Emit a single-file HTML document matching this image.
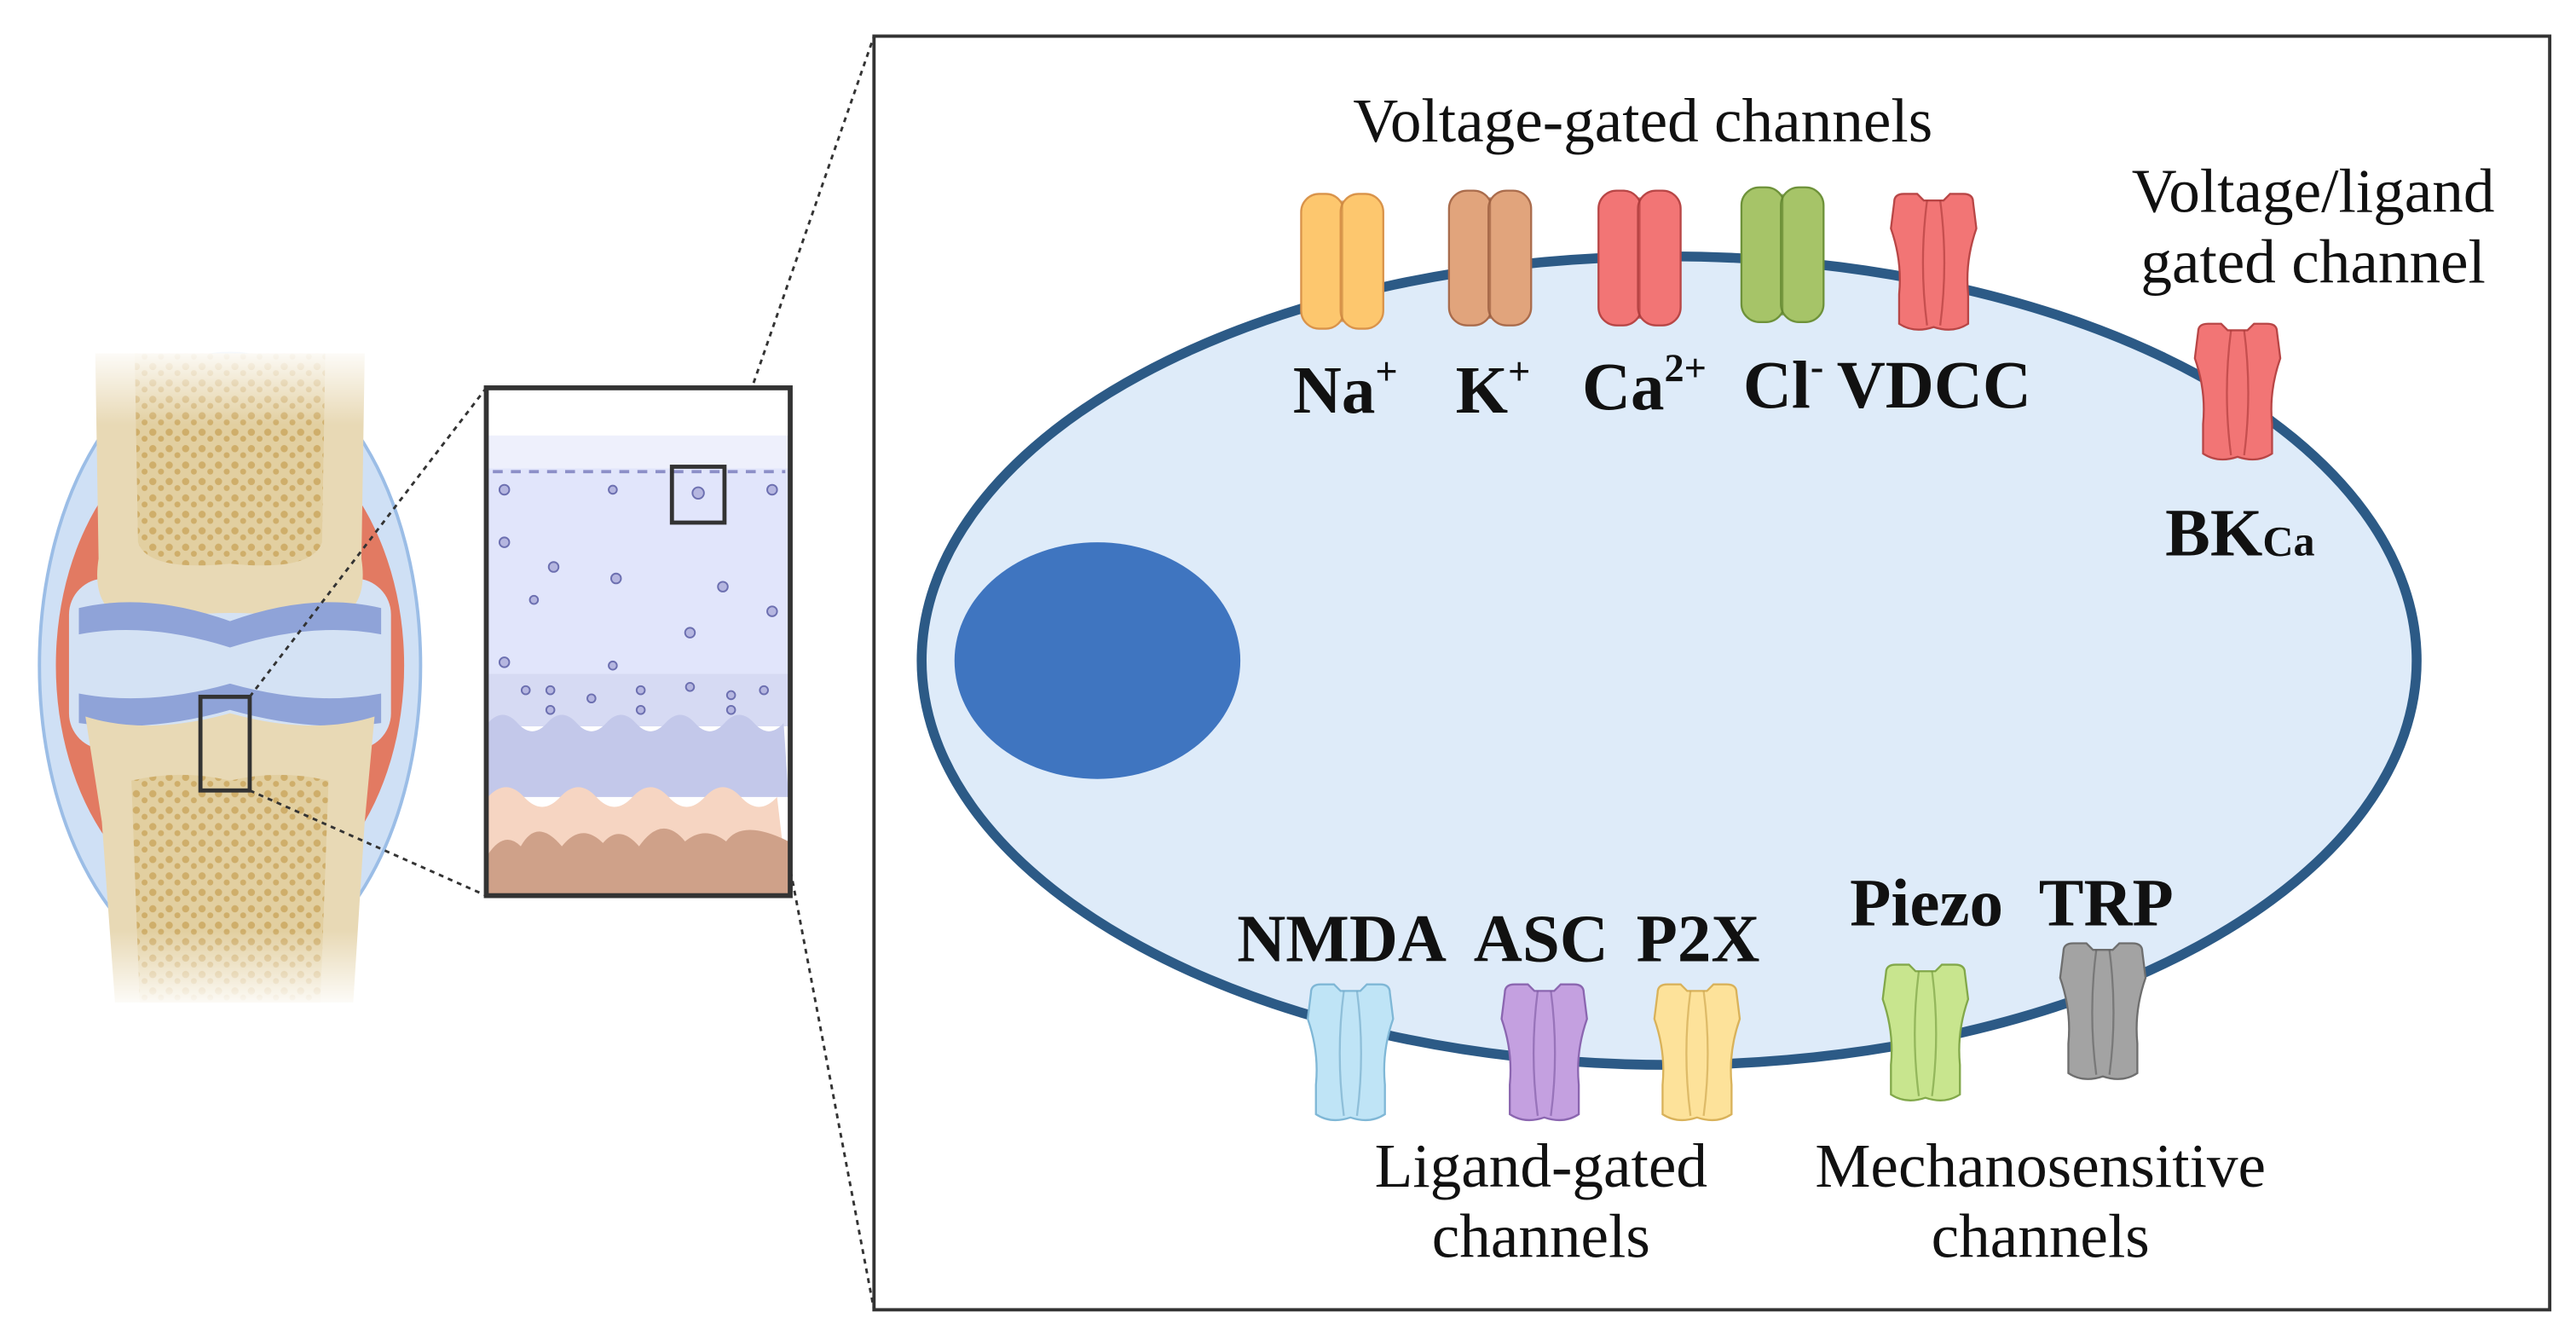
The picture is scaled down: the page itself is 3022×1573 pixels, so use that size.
<!DOCTYPE html>
<html><head><meta charset="utf-8"><style>
html,body{margin:0;padding:0;background:#fff;}
svg{display:block;}
text{font-family:"Liberation Serif",serif;fill:#111;}
.b{font-weight:bold;font-size:41px;}
.n{font-size:38px;}
</style></head><body>
<svg width="3022" height="1573" viewBox="0 0 1568 816" preserveAspectRatio="none" xmlns="http://www.w3.org/2000/svg">
<defs>
<linearGradient id="fade" x1="0" y1="0" x2="0" y2="1">
<stop offset="0" stop-color="#fff" stop-opacity="1"/><stop offset="0.12" stop-color="#fff" stop-opacity="0"/>
<stop offset="0.88" stop-color="#fff" stop-opacity="0"/><stop offset="1" stop-color="#fff" stop-opacity="1"/>
</linearGradient>
<pattern id="sp" width="10" height="10" patternUnits="userSpaceOnUse">
<rect width="10" height="10" fill="#e2cfa0"/><circle cx="3" cy="3" r="2.2" fill="#cfae6a"/><circle cx="8" cy="7" r="1.8" fill="#cfae6a"/>
</pattern>
<g id="st">
<rect x="-25" y="0" width="26" height="82" rx="11"/>
<rect x="-1" y="0" width="26" height="82" rx="11"/>
</g>
<path id="hg" d="M-24 6 Q-24 1 -18 1 L-10 1 L-6 5 L6 5 L10 1 L18 1 Q24 1 24 6 L26 22 Q19 42 21 62 L21 80 Q12 86 0 82 Q-12 86 -21 80 L-21 62 Q-19 42 -26 22 Z"/>
</defs>

<!-- joint -->
<ellipse cx="140" cy="405" rx="116" ry="190" fill="#cfe0f5" stroke="#9bbde6" stroke-width="2"/>
<ellipse cx="140" cy="405" rx="106" ry="150" fill="#e27a62"/>
<rect x="42" y="352" width="196" height="104" rx="22" fill="#d4e2f4"/>
<path d="M58 215 L222 215 L220 340 Q225 372 200 378 Q140 368 80 378 Q55 372 60 340 Z" fill="#e8d9b5"/>
<path d="M82 215 L198 215 L196 330 Q190 348 140 343 Q90 348 84 330 Z" fill="url(#sp)"/>
<path d="M48 370 Q90 360 140 378 Q190 360 232 370 L232 386 Q190 378 140 394 Q90 378 48 386 Z" fill="#8fa3d8"/>
<path d="M48 422 Q90 430 140 416 Q190 430 232 422 L232 440 Q190 446 140 432 Q90 446 48 440 Z" fill="#8fa3d8"/>
<path d="M52 436 Q90 448 140 434 Q190 448 228 436 L222 500 L215 610 L70 610 L62 500 Z" fill="#e8d9b5"/>
<path d="M80 475 Q110 468 140 475 Q170 468 200 475 L195 610 L85 610 Z" fill="url(#sp)"/>
<rect x="20" y="210" width="240" height="405" fill="url(#fade)"/>
<rect x="122" y="424" width="30" height="57" fill="none" stroke="#333" stroke-width="2.5"/>

<!-- dotted lines -->
<g stroke="#333" stroke-width="1.5" stroke-dasharray="3,3" fill="none">
<line x1="152" y1="424" x2="296" y2="236"/>
<line x1="152" y1="481" x2="296" y2="545"/>
<line x1="441" y1="284" x2="532" y2="22"/>
<line x1="441" y1="318" x2="532" y2="797"/>
</g>

<!-- tissue box -->
<rect x="296" y="236" width="185" height="309" fill="#fff"/>
<rect x="297" y="265" width="183" height="20" fill="#eef0fc"/>
<rect x="297" y="285" width="183" height="125" fill="#e1e5fb"/>
<rect x="297" y="410" width="183" height="32" fill="#d6daf3"/>
<path d="M297 440 q9 -10 18 0 t18 0 t18 0 t18 0 t18 0 t18 0 t18 0 t18 0 t18 0 t18 0 L480 485 L297 485 Z" fill="#c3c8ea"/>
<path d="M297 485 q11 -12 22 0 t22 0 t22 0 t22 0 t22 0 t22 0 t22 0 t22 0 L480 545 L297 545 Z" fill="#f6d5c2"/>
<path d="M297 520 q10 -15 20 -5 q10 -18 25 0 q12 -15 25 -2 q10 -12 22 2 q14 -20 28 -3 q12 -10 25 0 q10 -14 38 0 L480 545 L297 545 Z" fill="#cfa189"/>
<g fill="#b5b6e0" stroke="#6c6fb0" stroke-width="1">
<circle cx="307" cy="298" r="3"/><circle cx="373" cy="298" r="2.5"/><circle cx="470" cy="298" r="3"/>
<circle cx="307" cy="330" r="3"/><circle cx="337" cy="345" r="3"/><circle cx="375" cy="352" r="3"/>
<circle cx="325" cy="365" r="2.5"/><circle cx="440" cy="357" r="3"/><circle cx="470" cy="372" r="3"/>
<circle cx="307" cy="403" r="3"/><circle cx="373" cy="405" r="2.5"/><circle cx="420" cy="385" r="3"/>
<circle cx="320" cy="420" r="2.5"/><circle cx="335" cy="420" r="2.5"/><circle cx="360" cy="425" r="2.5"/><circle cx="390" cy="420" r="2.5"/><circle cx="420" cy="418" r="2.5"/><circle cx="445" cy="423" r="2.5"/><circle cx="465" cy="420" r="2.5"/>
<circle cx="335" cy="432" r="2.5"/><circle cx="390" cy="432" r="2.5"/><circle cx="445" cy="432" r="2.5"/>
<circle cx="425" cy="300" r="3.5"/>
</g>
<path d="M300 287 H478" stroke="#8c8fc8" stroke-width="2" stroke-dasharray="6,5"/>
<rect x="296" y="236" width="185" height="309" fill="none" stroke="#333" stroke-width="3"/>
<rect x="409" y="284" width="32" height="34" fill="none" stroke="#333" stroke-width="2.5"/>

<!-- big box -->
<rect x="532" y="22" width="1020" height="775" fill="#fff" stroke="#333" stroke-width="2"/>
<ellipse cx="1016" cy="402" rx="455" ry="246" fill="#deebf9" stroke="#2c5a86" stroke-width="6"/>
<ellipse cx="668" cy="402" rx="87" ry="72" fill="#3f75c0"/>

<!-- channels -->
<g stroke-width="1.2">
<use href="#st" x="817" y="118" fill="#fdc76e" stroke="#d9934a"/>
<use href="#st" x="907" y="116" fill="#e1a47c" stroke="#aa6c4c"/>
<use href="#st" x="998" y="116" fill="#f27575" stroke="#b84646"/>
<use href="#st" x="1085" y="114" fill="#a6c468" stroke="#6e923a"/>
<use href="#hg" x="1177" y="117" fill="#f27575" stroke="#b84646"/>
<use href="#hg" x="1362" y="196" fill="#f27575" stroke="#b84646"/>
<use href="#hg" x="822" y="598" fill="#bfe4f6" stroke="#7fb7d6"/>
<use href="#hg" x="940" y="598" fill="#c4a0e0" stroke="#8b66b0"/>
<use href="#hg" x="1033" y="598" fill="#fde29a" stroke="#d9b25a"/>
<use href="#hg" x="1172" y="586" fill="#c8e58e" stroke="#82a84a"/>
<use href="#hg" x="1280" y="573" fill="#a3a3a3" stroke="#6e6e6e"/>
</g>
<g stroke-width="1.2" opacity="0.6" fill="none">
<line x1="817" y1="122" x2="817" y2="196" stroke="#c7823c"/>
<line x1="907" y1="120" x2="907" y2="194" stroke="#9a5c3c"/>
<line x1="998" y1="120" x2="998" y2="194" stroke="#a83636"/>
<line x1="1085" y1="118" x2="1085" y2="192" stroke="#5e822a"/>
<path d="M1173 122 Q1168 160 1173 198 M1181 122 Q1186 160 1181 198" stroke="#a83636"/>
<path d="M1358 201 Q1353 239 1358 277 M1366 201 Q1371 239 1366 277" stroke="#a83636"/>
<path d="M818 603 Q813 641 818 679 M826 603 Q831 641 826 679" stroke="#6fa7c6"/>
<path d="M936 603 Q931 641 936 679 M944 603 Q949 641 944 679" stroke="#7b56a0"/>
<path d="M1029 603 Q1024 641 1029 679 M1037 603 Q1042 641 1037 679" stroke="#c9a24a"/>
<path d="M1168 591 Q1163 629 1168 667 M1176 591 Q1181 629 1176 667" stroke="#72983a"/>
<path d="M1276 578 Q1271 616 1276 654 M1284 578 Q1289 616 1284 654" stroke="#5e5e5e"/>
</g>

<!-- text -->
<text class="n" x="1000" y="86" text-anchor="middle">Voltage-gated channels</text>
<text class="n" x="1408" y="129" text-anchor="middle">Voltage/ligand</text>
<text class="n" x="1408" y="172" text-anchor="middle">gated channel</text>
<text class="b" x="787" y="251">Na<tspan font-size="24" dy="-17">+</tspan></text>
<text class="b" x="886" y="251">K<tspan font-size="24" dy="-17">+</tspan></text>
<text class="b" x="963" y="249">Ca<tspan font-size="24" dy="-17">2+</tspan></text>
<text class="b" x="1061" y="248">Cl<tspan font-size="24" dy="-17">-</tspan></text>
<text class="b" x="1118" y="248">VDCC</text>
<text class="b" x="1318" y="338">BK<tspan font-size="26">Ca</tspan></text>
<text class="b" x="753" y="585">NMDA</text>
<text class="b" x="897" y="585">ASC</text>
<text class="b" x="996" y="585">P2X</text>
<text class="b" x="1126" y="563">Piezo</text>
<text class="b" x="1241" y="563">TRP</text>
<text class="n" x="938" y="722" text-anchor="middle">Ligand-gated</text>
<text class="n" x="938" y="765" text-anchor="middle">channels</text>
<text class="n" x="1242" y="722" text-anchor="middle">Mechanosensitive</text>
<text class="n" x="1242" y="765" text-anchor="middle">channels</text>
</svg>
</body></html>
